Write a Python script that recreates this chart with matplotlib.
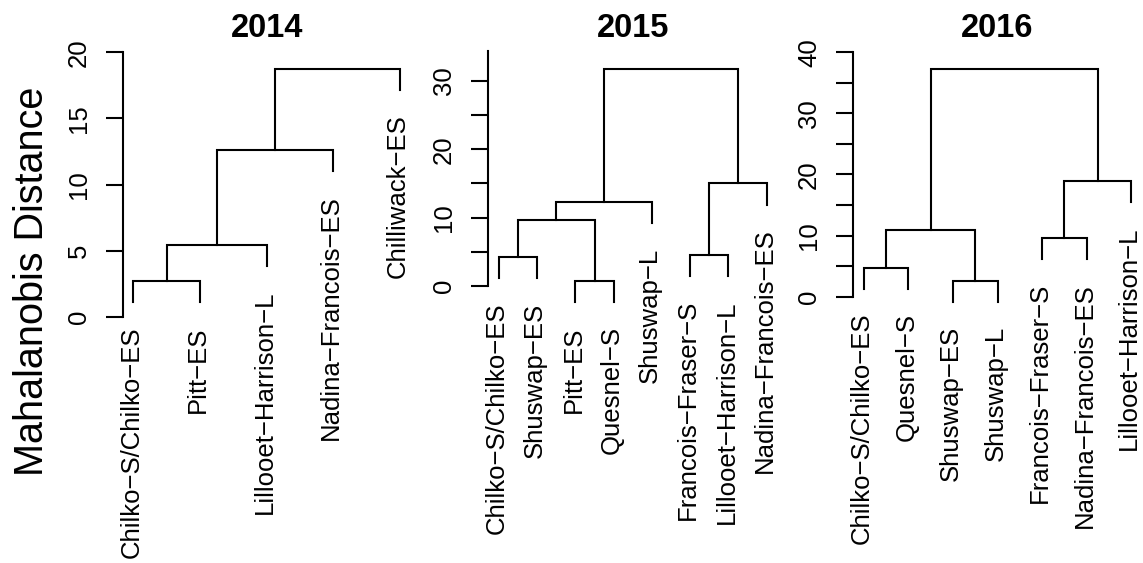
import matplotlib
matplotlib.use("Agg")
import matplotlib.pyplot as plt

# ─────────────────────────────────────────────
# DATOS  (estilo hclust: negativo = hoja, positivo = fila de merge previa)
# ─────────────────────────────────────────────
years = ["2014", "2015", "2016"]

labels_2014 = ["Chilko-S/Chilko-ES", "Pitt-ES", "Lillooet-Harrison-L",
               "Nadina-Francois-ES", "Chilliwack-ES"]
merge_2014  = [(-1, -2), (1, -3), (2, -4), (3, -5)]
height_2014 = [2.72, 5.44, 12.62, 18.74]

labels_2015 = ["Chilko-S/Chilko-ES", "Shuswap-ES", "Pitt-ES", "Quesnel-S",
               "Shuswap-L", "Francois-Fraser-S", "Lillooet-Harrison-L",
               "Nadina-Francois-ES"]
merge_2015  = [(-3, -4), (-1, -2), (-6, -7), (2, 1), (4, -5), (3, -8), (5, 6)]
height_2015 = [0.73, 4.19, 4.53, 9.64, 12.27, 15.0, 31.66]

labels_2016 = ["Chilko-S/Chilko-ES", "Quesnel-S", "Shuswap-ES", "Shuswap-L",
               "Francois-Fraser-S", "Nadina-Francois-ES", "Lillooet-Harrison-L"]
merge_2016  = [(-3, -4), (-1, -2), (-5, -6), (2, 1), (3, -7), (4, 5)]
height_2016 = [2.57, 4.75, 9.66, 10.92, 18.94, 37.27]

yticks_2014  = [0, 5, 10, 15, 20]
ylabels_2014 = ["0", "5", "10", "15", "20"]
yticks_2015  = [0, 5, 10, 15, 20, 25, 30]
ylabels_2015 = ["0", "", "10", "", "20", "", "30"]
yticks_2016  = [0, 5, 10, 15, 20, 25, 30, 35, 40]
ylabels_2016 = ["0", "", "10", "", "20", "", "30", "", "40"]

ylim_top = [20, 34.4, 40]

# ─────────────────────────────────────────────
# LAYOUT (pixeles de la figura)
# ─────────────────────────────────────────────
W, H = 1143, 563
# (izquierda, derecha, y de 0, y del tope)
boxes = [(122.7, 410.7, 317.0, 52.3),
         (488.3, 777.4, 286.0, 50.7),
         (853.3, 1141.7, 296.7, 52.3)]

LW = 1.5
plt.rcParams["font.family"] = ["Liberation Sans", "DejaVu Sans"]


def draw_dendro(ax, labels, merge, height, hang_frac=0.1):
    hang = hang_frac * (max(height) - min(height))
    xpos = {}
    for i, (a, b) in enumerate(merge, start=1):
        h = height[i - 1]
        xs, ys = [], []
        for c in (a, b):
            if c < 0:
                x = -c
                y0 = h - hang
                # R dibuja el guion como signo menos
                ax.annotate(labels[x - 1].replace("-", "\u2212"), (x, y0),
                            xytext=(3.6, -17.3), textcoords="offset points",
                            rotation=90, rotation_mode="anchor",
                            ha="right", va="baseline", fontsize=18.5,
                            annotation_clip=False)
            else:
                x = xpos[c]
                y0 = height[c - 1]
            xs.append(x)
            ys.append(y0)
        ax.plot([xs[0], xs[0], xs[1], xs[1]], [ys[0], h, h, ys[1]],
                color="black", lw=LW, clip_on=False, solid_joinstyle="miter")
        xpos[i] = (xs[0] + xs[1]) / 2


fig = plt.figure(figsize=(W / 100, H / 100), dpi=100)

panels = [(labels_2014, merge_2014, height_2014, yticks_2014, ylabels_2014),
          (labels_2015, merge_2015, height_2015, yticks_2015, ylabels_2015),
          (labels_2016, merge_2016, height_2016, yticks_2016, ylabels_2016)]

for k, (labs, mrg, hts, ytk, ylb) in enumerate(panels):
    left, right, y0, ytop = boxes[k]
    ax = fig.add_axes([left / W, 1 - y0 / H, (right - left) / W, (y0 - ytop) / H])
    n = len(labs)
    ext = 0.04 * (n - 1)
    ax.set_xlim(1 - ext, n + ext)
    ax.set_ylim(0, ylim_top[k])
    draw_dendro(ax, labs, mrg, hts)

    for s in ["top", "right", "bottom"]:
        ax.spines[s].set_visible(False)
    ax.spines["left"].set_linewidth(LW)
    ax.set_xticks([])
    ax.set_yticks(ytk)
    ax.set_yticklabels(ylb, rotation=90, rotation_mode="anchor",
                       ha="center", va="baseline", fontsize=18.5)
    ax.tick_params(axis="y", length=12.2, width=LW, pad=14.5)
    ax.patch.set_visible(False)

    fig.text((left + right) / 2 / W, 1 - 37 / H, years[k], ha="center",
             va="baseline", fontsize=23.5, fontweight="bold")

fig.text(43 / W, 1 - 281.5 / H, "Mahalanobis Distance", rotation=90,
         rotation_mode="anchor", ha="center", va="baseline", fontsize=28.5)

plt.savefig("out.png", dpi=100)
